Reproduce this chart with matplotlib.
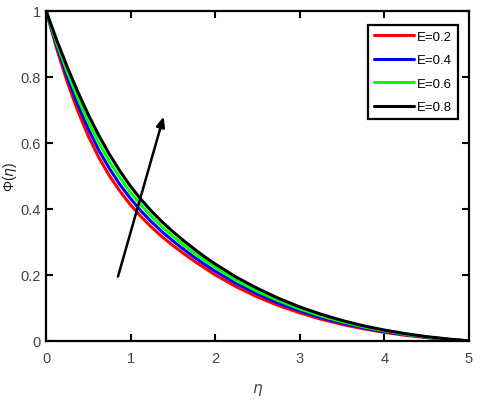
import numpy as np
import matplotlib
matplotlib.use("Agg")
import matplotlib.pyplot as plt

# values
eta = [0.0, 0.125, 0.25, 0.375, 0.5, 0.625, 0.75, 0.875, 1.0, 1.125, 1.25, 1.375,
       1.5, 1.625, 1.75, 1.875, 2.0, 2.25, 2.5, 2.75, 3.0, 3.25, 3.5, 3.75,
       4.0, 4.25, 4.5, 4.75, 5.0]
phi_e02 = [1.0, 0.886, 0.785, 0.697, 0.620, 0.555, 0.500, 0.453, 0.412, 0.376, 0.344, 0.315,
           0.289, 0.265, 0.242, 0.221, 0.200, 0.164, 0.133, 0.107, 0.085, 0.066, 0.050, 0.037,
           0.026, 0.017, 0.010, 0.004, 0.0]
phi_e04 = [1.0, 0.895, 0.800, 0.716, 0.642, 0.577, 0.522, 0.473, 0.431, 0.393, 0.360, 0.330,
           0.303, 0.278, 0.254, 0.232, 0.211, 0.174, 0.142, 0.114, 0.091, 0.071, 0.054, 0.040,
           0.028, 0.019, 0.011, 0.005, 0.0]
phi_e06 = [1.0, 0.903, 0.815, 0.736, 0.663, 0.600, 0.543, 0.494, 0.449, 0.411, 0.376, 0.345,
           0.317, 0.291, 0.267, 0.244, 0.222, 0.183, 0.150, 0.122, 0.097, 0.076, 0.058, 0.043,
           0.031, 0.020, 0.012, 0.005, 0.0]
phi_e08 = [1.0, 0.912, 0.830, 0.755, 0.685, 0.622, 0.565, 0.514, 0.468, 0.428, 0.392, 0.360,
           0.331, 0.304, 0.279, 0.255, 0.233, 0.193, 0.159, 0.129, 0.103, 0.081, 0.062, 0.046,
           0.033, 0.022, 0.013, 0.006, 0.0]
labels = ["E=0.2", "E=0.4", "E=0.6", "E=0.8"]
colors = ["#ff0000", "#0000ff", "#00ff00", "#000000"]

plt.rcParams['font.family'] = ['Liberation Sans', 'DejaVu Sans']

fig = plt.figure(figsize=(4.8, 4.1), dpi=100)
ax = fig.add_axes([0.096, 0.166, 0.881, 0.805])

for series, lab, col in zip([phi_e02, phi_e04, phi_e06, phi_e08], labels, colors):
    ax.plot(eta, series, color=col, lw=2.2, label=lab,
            solid_joinstyle="round", solid_capstyle="round")

# arrow showing increasing E
ax.annotate("", xy=(1.39, 0.68), xytext=(0.85, 0.195),
            arrowprops=dict(arrowstyle="-|>,head_length=0.6,head_width=0.25",
                            color="black", lw=1.8, shrinkA=0, shrinkB=0))

ax.set_xlim(0, 5)
ax.set_ylim(0, 1)
ax.set_xticks([0, 1, 2, 3, 4, 5])
ax.set_yticks([0, 0.2, 0.4, 0.6, 0.8, 1])
ax.set_yticklabels(["0", "0.2", "0.4", "0.6", "0.8", "1"])
ax.tick_params(axis="both", direction="in", top=True, right=True, length=5, width=1.5,
               labelsize=10.5, labelcolor="#444444")
ax.tick_params(axis="x", pad=7)
ax.tick_params(axis="y", pad=4)
for sp in ax.spines.values():
    sp.set_linewidth(1.6)

ax.set_xlabel(r"$\eta$", fontsize=11, color="#444444", labelpad=12)
ax.set_ylabel(r"Φ($\eta$)", fontsize=10, color="#222222", labelpad=1)

leg = ax.legend(loc="upper right", bbox_to_anchor=(0.974, 0.958), borderaxespad=0,
                fontsize=9.5, handlelength=3.0, handletextpad=0.25,
                labelspacing=0.85, borderpad=0.45, fancybox=False,
                edgecolor="black", framealpha=1)
leg.get_frame().set_linewidth(1.6)

fig.savefig("out.png", dpi=100)
